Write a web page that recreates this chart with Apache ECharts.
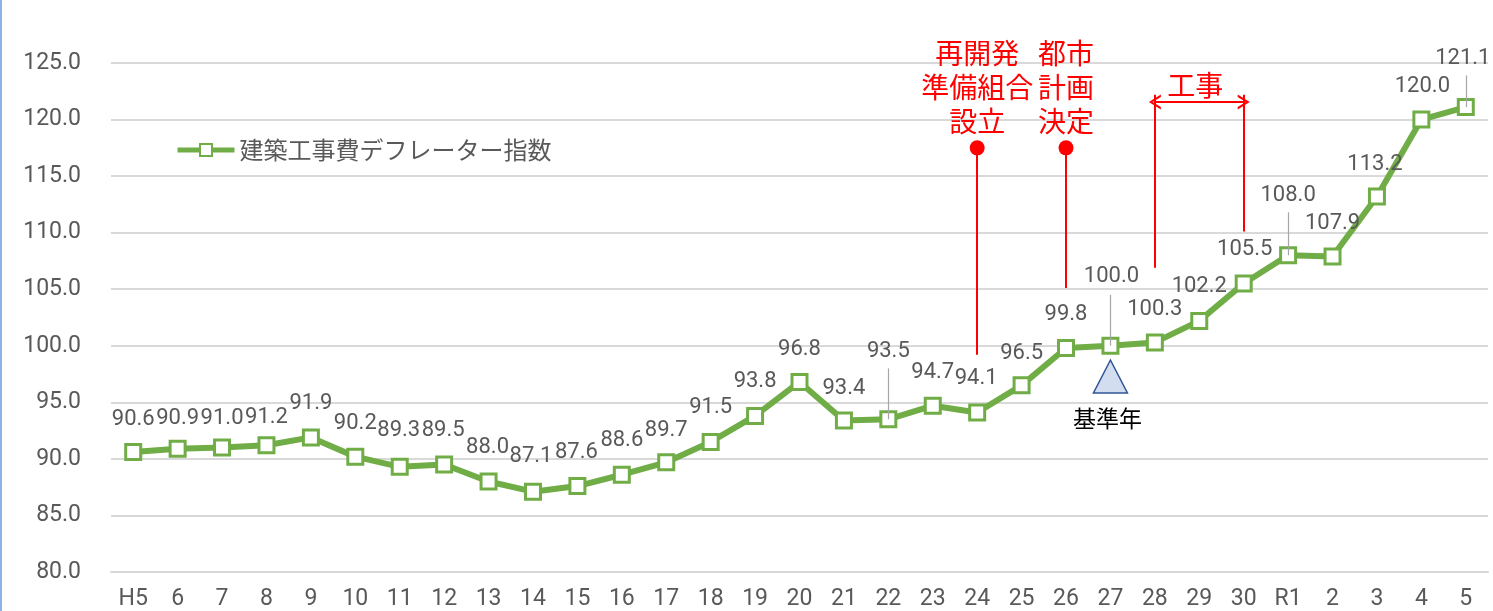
<!DOCTYPE html>
<html>
<head>
<meta charset="utf-8">
<script src="https://cdn.jsdelivr.net/npm/echarts@6/dist/echarts.min.js"></script>
<style>
  html, body { margin: 0; padding: 0; background: #fff; }
  #main { width: 1493px; height: 611px; }
</style>
</head>
<body>
<div id="main"></div>
<script>
var categories = ['H5', '6', '7', '8', '9', '10', '11', '12', '13', '14', '15', '16', '17', '18', '19', '20',
  '21', '22', '23', '24', '25', '26', '27', '28', '29', '30', 'R1', '2', '3', '4', '5']
var deflator = [90.6, 90.9, 91.0, 91.2, 91.9, 90.2, 89.3, 89.5, 88.0, 87.1, 87.6, 88.6, 89.7, 91.5, 93.8, 96.8,
  93.4, 93.5, 94.7, 94.1, 96.5, 99.8, 100.0, 100.3, 102.2, 105.5, 108.0, 107.9, 113.2, 120.0, 121.1]
var seriesName = '建築工事費デフレーター指数'

// label placement (pixels from marker centre), like the hand-moved labels in the original
var labelShift = [
  [0, -33], [0, -30], [0, -29], [0, -28], [0, -34], [0, -33], [-1, -36], [-1, -34], [-1, -34], [-2, -35],
  [-1, -34], [0, -34], [0, -32], [0, -34], [0, -34], [0, -32], [0, -32], [0, -68], [0, -33], [-1, -34],
  [0, -32], [0, -34], [1, -69], [0, -33], [0, -34], [1, -34], [0, -60], [0, -33], [-2, -32], [1, -33], [-3, -49]
]
// grey leader lines, length in value units above the point
var leaders = { 17: 4.5, 22: 4.5, 26: 3.8, 30: 2.8 }

var NUM_FONT = 'Roboto, "Noto Sans", sans-serif'
var JP_FONT = '"Noto Sans CJK JP", sans-serif'
var RED = '#ff0000'

var myChart = echarts.init(document.querySelector('#main'))

var lineData = deflator.map(function (v, i) {
  return { value: v, label: { offset: labelShift[i] } }
})

var leaderLines = Object.keys(leaders).map(function (k) {
  var i = +k
  return [{ coord: [i, deflator[i]] }, { coord: [i, deflator[i] + leaders[k]] }]
})

var chevron = 'path://M0,10 L5,0 L10,10 L8.4,10 L5,3.2 L1.6,10 Z'
var hidden = { color: 'rgba(0,0,0,0)' }

var option = {
  animation: false,
  grid: { left: 111, right: 5, top: 63, bottom: 39 },
  legend: {
    data: [seriesName],
    left: 170,
    top: 133,
    itemWidth: 57,
    itemHeight: 15,
    itemGap: 4,
    lineStyle: { width: 5 },
    textStyle: { fontFamily: JP_FONT, fontSize: 24, color: '#595959' }
  },
  graphic: [{
    type: 'line',
    shape: { x1: 1, y1: 0, x2: 1, y2: 611 },
    style: { stroke: '#8db3e2', lineWidth: 2 }
  }],
  xAxis: {
    type: 'category',
    data: categories,
    boundaryGap: true,
    axisLine: { lineStyle: { color: '#d9d9d9', width: 2 } },
    axisTick: { show: false },
    axisLabel: { color: '#595959', fontSize: 23, fontFamily: NUM_FONT, margin: 16 }
  },
  yAxis: {
    type: 'value',
    min: 80,
    max: 125,
    interval: 5,
    axisLine: { show: false },
    axisTick: { show: false },
    splitLine: { lineStyle: { color: '#d9d9d9', width: 2 } },
    axisLabel: {
      color: '#595959', fontSize: 23, fontFamily: NUM_FONT, margin: 30,
      formatter: function (v) { return v.toFixed(1) }
    }
  },
  series: [
    {
      name: seriesName,
      type: 'line',
      data: lineData,
      symbol: 'rect',
      symbolSize: 15,
      z: 3,
      lineStyle: { color: '#70ad47', width: 6 },
      itemStyle: { color: '#ffffff', borderColor: '#70ad47', borderWidth: 3 },
      label: {
        show: true,
        position: 'inside',
        color: '#595959',
        fontSize: 22,
        fontFamily: NUM_FONT,
        formatter: function (p) { return p.value.toFixed(1) }
      },
      markLine: {
        silent: true,
        symbol: 'none',
        label: { show: false },
        lineStyle: { color: '#a6a6a6', width: 1.2, type: 'solid' },
        data: leaderLines
      }
    },
    {
      name: 'annotations',
      type: 'line',
      data: [],
      z: 4,
      markLine: {
        silent: true,
        symbol: 'none',
        label: { show: false },
        lineStyle: { color: RED, width: 2, type: 'solid' },
        data: [
          [{ coord: ['24', 117.5] }, { coord: ['24', 99.2] }],
          [{ coord: ['26', 117.5] }, { coord: ['26', 105.1] }],
          [{ coord: ['28', 122.2] }, { coord: ['28', 106.9] }],
          [{ coord: ['30', 122.2] }, { coord: ['30', 110.1] }],
          [{ coord: ['28', 121.55], symbol: chevron, symbolSize: [15, 12] },
            { coord: ['30', 121.55], symbol: chevron, symbolSize: [15, 12] }]
        ]
      },
      markPoint: {
        silent: true,
        data: [
          { coord: ['24', 117.5], symbol: 'circle', symbolSize: 15, itemStyle: { color: RED }, label: { show: false } },
          { coord: ['26', 117.5], symbol: 'circle', symbolSize: 15, itemStyle: { color: RED }, label: { show: false } },
          {
            coord: ['24', 122.83], symbol: 'circle', symbolSize: 1, itemStyle: hidden,
            label: { show: true, position: 'inside', formatter: '再開発\n準備組合\n設立', color: RED, fontSize: 28, lineHeight: 34, fontFamily: JP_FONT, align: 'center' }
          },
          {
            coord: ['26', 122.83], symbol: 'circle', symbolSize: 1, itemStyle: hidden,
            label: { show: true, position: 'inside', formatter: '都市\n計画\n決定', color: RED, fontSize: 28, lineHeight: 34, fontFamily: JP_FONT, align: 'center' }
          },
          {
            coord: ['29', 123.05], symbol: 'circle', symbolSize: 1, itemStyle: hidden,
            label: { show: true, position: 'inside', offset: [-4, 0], formatter: '工事', color: RED, fontSize: 28, fontFamily: JP_FONT }
          },
          {
            coord: ['27', 97.28], symbol: 'triangle', symbolSize: [34, 33],
            itemStyle: { color: '#d3ddf0', borderColor: '#2f5597', borderWidth: 1.5 },
            label: { show: false }
          },
          {
            coord: ['27', 93.6], symbol: 'circle', symbolSize: 1, itemStyle: hidden,
            label: { show: true, position: 'inside', offset: [-3, 0], formatter: '基準年', color: '#000', fontSize: 23, fontFamily: JP_FONT }
          }
        ]
      }
    }
  ]
}

myChart.setOption(option)
</script>
</body>
</html>
